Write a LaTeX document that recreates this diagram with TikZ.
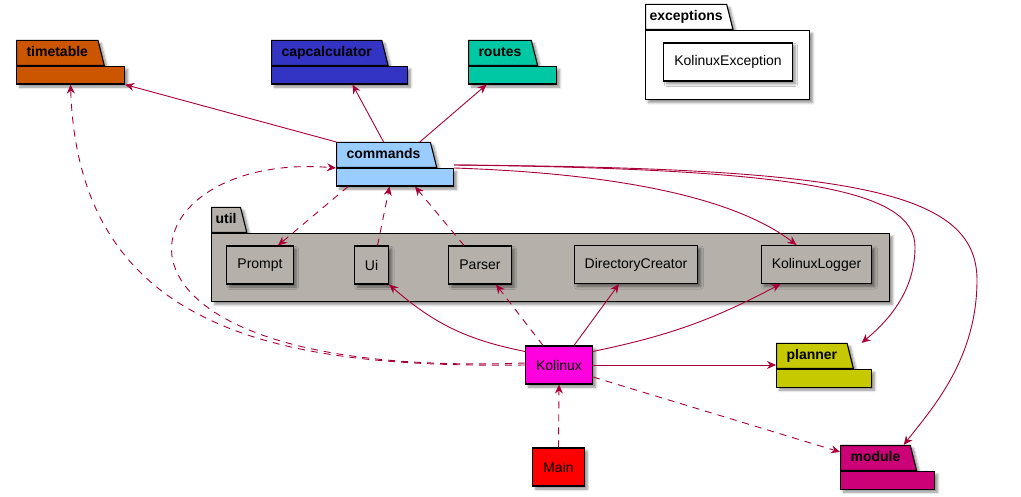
\documentclass[tikz,border=0pt]{standalone}
\usepackage{fontspec}
\setmainfont{Liberation Sans}
\usetikzlibrary{positioning}
\usetikzlibrary{arrows.meta}
\usetikzlibrary{shapes,shadows.blur}
\definecolor{ttorange}{HTML}{CC5500}
\definecolor{capblue}{HTML}{3434C4}
\definecolor{routegreen}{HTML}{00C8A4}
\definecolor{cmdblue}{HTML}{99CCFF}
\definecolor{utilgray}{HTML}{B5B0AA}
\definecolor{planneryellow}{HTML}{C6C800}
\definecolor{modulered}{HTML}{CC0077}
\definecolor{kolinuxpink}{HTML}{FF00DE}
\definecolor{arrowred}{HTML}{A80036}
\tikzset{
        umlnode/.style={draw=black, line width=1.1pt, inner sep=0pt, blur shadow={shadow xshift=3pt, shadow yshift=-3pt, shadow blur radius=2.5pt, shadow blur steps=6, shadow opacity=45}},
        % Package tabs
        pkg_tab/.style={umlnode, trapezium, trapezium left angle=90, trapezium right angle=76, anchor=bottom left corner, inner xsep=10pt, inner ysep=6pt, text height=10pt, text depth=3pt, font=\fontsize{14}{16}\selectfont\bfseries},
        pkg_tab_tight/.style={pkg_tab, inner xsep=4pt},
        % Package bodies
        pkg_body/.style={umlnode, rectangle, anchor=north west, minimum height=17.5pt},
        % Classes
        node_class/.style={umlnode, rectangle, minimum height=38pt, inner xsep=10.5pt, font=\fontsize{14}{16}\selectfont},
        % Dependencies
        dep/.style={draw=arrowred, line width=0.9pt, -{Stealth[length=9pt,width=8pt,inset=3pt]}},
        dep_dashed/.style={dep, dash pattern=on 7pt off 6pt}
}
\begin{document}
\begin{tikzpicture}[
            x=1pt, y=-1pt,
            every node/.style={solid}
        ]
            \useasboundingbox (0,0) rectangle (1021,497);
            % Packages
            \node[pkg_tab, fill=ttorange] (timetabletab) at (16,66) {timetable};
            \node[pkg_body, fill=ttorange, minimum width=108pt] (timetable) at (timetabletab.bottom left corner) {};
            \node[pkg_tab, fill=capblue] (capcalculatortab) at (271,66) {capcalculator};
            \node[pkg_body, fill=capblue, minimum width=136pt] (capcalculator) at (capcalculatortab.bottom left corner) {};
            \node[pkg_tab, fill=routegreen] (routestab) at (468,66) {routes};
            \node[pkg_body, fill=routegreen, minimum width=88pt] (routes) at (routestab.bottom left corner) {};
            \node[pkg_tab, fill=cmdblue] (commandstab) at (336,168) {commands};
            \node[pkg_body, fill=cmdblue, minimum width=117pt] (commands) at (commandstab.bottom left corner) {};
            \node[pkg_tab, fill=planneryellow] (plannertab) at (776,369) {planner};
            \node[pkg_body, fill=planneryellow, minimum width=95pt] (planner) at (plannertab.bottom left corner) {};
            \node[pkg_tab, fill=modulered] (moduletab) at (840,471) {module};
            \node[pkg_body, fill=modulered, minimum width=94pt] (module) at (moduletab.bottom left corner) {};
            \node[pkg_tab_tight, fill=white] (exceptionstab) at (645,30) {exceptions};
            \node[pkg_body, fill=white, minimum width=164pt, minimum height=69pt] (exceptions) at (exceptionstab.bottom left corner) {};
            \node[pkg_tab_tight, fill=utilgray] (utiltab) at (211,233) {util};
            \node[pkg_body, fill=utilgray, minimum width=678pt, minimum height=68pt] (util) at (utiltab.bottom left corner) {};
            % Classes
            \node[node_class, fill=white] (kolinuxexception) at (728,62) {KolinuxException};
            \node[node_class, fill=utilgray] (prompt) at (260,265) {Prompt};
            \node[node_class, fill=utilgray] (ui) at (371.5,265) {Ui};
            \node[node_class, fill=utilgray] (parser) at (480,265) {Parser};
            \node[node_class, fill=utilgray] (dircreator) at (636,264.5) {DirectoryCreator};
            \node[node_class, fill=utilgray] (logger) at (816.5,264.5) {KolinuxLogger};
            \node[node_class, fill=kolinuxpink] (kolinux) at (559,365) {Kolinux};
            \node[node_class, fill=red] (main) at (558.5,467) {Main};
            \coordinate (plannerbend) at (915,247);
            \coordinate (modulebend) at (977,280);
            % commands
            \draw[dep] (commandstab.top left corner) -- (timetable.south east);
            \draw[dep] (commandstab.north) -- ([xshift=13pt]capcalculator.south);
            \draw[dep] ([xshift=-11pt]commandstab.top right corner) -- ([xshift=-26pt]routes.south);
            \draw[dep_dashed] ([xshift=12pt]commands.south west) -- ([xshift=18pt]prompt.north);
            \draw[dep_dashed] ([xshift=6pt]ui.north) -- ([xshift=-5.5pt]commands.south);
            \draw[dep_dashed] ([xshift=-16pt]parser.north) -- ([xshift=20pt]commands.south);
            \draw[dep] (commands.north east) .. controls +(207,7) and +(-46,-35) .. ([xshift=-20pt]logger.north);
            \draw[dep] ([yshift=3pt]commands.north east) .. controls +(347,4) and +(0,-57) .. (plannerbend)
                .. controls +(0,43) and +(28,-23) .. ([xshift=14pt]plannertab.top right corner);
            \draw[dep] ([yshift=3pt]commands.north east) .. controls +(397,3) and +(0,-90) .. (modulebend)
                .. controls +(0,80) and +(27,-35) .. ([xshift=-7pt]moduletab.top right corner);
            % Kolinux
            \draw[dep_dashed] (kolinux.west) .. controls +(-240,3) and +(8,250) .. (timetable.south);
            \draw[dep_dashed] ([yshift=2pt]kolinux.west) .. controls +(-466,17) and +(-216,-18) .. (commands.north west);
            \draw[dep] ([yshift=-6pt]kolinux.north west) to[bend left=15] (ui.south east);
            \draw[dep_dashed] ([xshift=-16pt]kolinux.north) -- ([xshift=16pt]parser.south);
            \draw[dep] ([xshift=15pt]kolinux.north) -- ([xshift=-17pt]dircreator.south);
            \draw[dep] ([yshift=-6pt]kolinux.north east) to[bend right=8] ([xshift=-36pt]logger.south);
            \draw[dep] (kolinux.east) -- (kolinux.east -| plannertab.bottom left corner);
            \draw[dep_dashed] ([yshift=-12pt]kolinux.east) -- ([yshift=6pt]moduletab.west);
            \draw[dep_dashed] (main.north) -- (kolinux.south);
        \end{tikzpicture}
\end{document}
